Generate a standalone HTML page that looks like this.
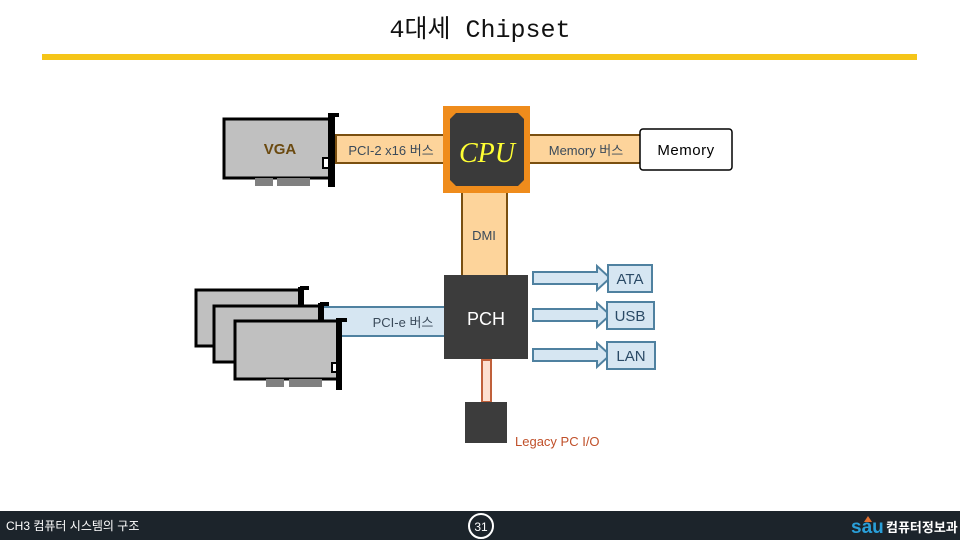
<!DOCTYPE html>
<html><head><meta charset="utf-8"><style>
body{margin:0;width:960px;height:540px;overflow:hidden;background:#fff;position:relative;font-family:"Liberation Sans","Noto Sans CJK KR",sans-serif}
</style></head><body>
<svg width="960" height="540" style="position:absolute;left:0;top:0" font-family="Liberation Sans, Noto Sans CJK KR, sans-serif">
<text x="480" y="37" text-anchor="middle" font-family="Liberation Mono, Noto Sans CJK KR, monospace" font-size="25" fill="#111">4대세 Chipset</text>
<rect x="42" y="54" width="875" height="6" fill="#f5c518"/>

<!-- VGA card -->
<rect x="224" y="119" width="106" height="59" fill="#c0c0c0" stroke="#000" stroke-width="3"/>
<rect x="255" y="178" width="18" height="8" fill="#808080"/>
<rect x="277" y="178" width="33" height="8" fill="#808080"/>
<rect x="328" y="113" width="7" height="74" fill="#000"/>
<rect x="330" y="113" width="9" height="4" fill="#000"/>
<rect x="323" y="158" width="6" height="10" fill="#fff" stroke="#000" stroke-width="2"/>
<text x="280" y="154" text-anchor="middle" font-size="15" font-weight="bold" fill="#6b4a10">VGA</text>

<!-- PCI-2 bus -->
<rect x="336" y="135" width="110" height="28" fill="#fdd49b" stroke="#7a4f10" stroke-width="2"/>
<text x="391" y="155" text-anchor="middle" font-size="13" fill="#3a4a5a">PCI-2 x16 버스</text>

<!-- Memory bus -->
<rect x="528" y="135" width="114" height="28" fill="#fdd49b" stroke="#7a4f10" stroke-width="2"/>
<text x="586" y="155" text-anchor="middle" font-size="13" fill="#3a4a5a">Memory 버스</text>
<rect x="640" y="129" width="92" height="41" rx="3" fill="#fff" stroke="#000" stroke-width="1.5"/>
<text x="686" y="155" text-anchor="middle" font-size="15" fill="#000" letter-spacing="0.5">Memory</text>

<!-- DMI -->
<rect x="462" y="190" width="45" height="87" fill="#fdd49b" stroke="#7a4f10" stroke-width="2"/>
<text x="484" y="240" text-anchor="middle" font-size="13" fill="#3a4a5a">DMI</text>

<!-- CPU -->
<rect x="443" y="106" width="87" height="87" fill="#ef8c1c"/>
<polygon points="456,113 518,113 524,119 524,180 518,186 456,186 450,180 450,119" fill="#3a3a3a"/>
<text x="487" y="162" text-anchor="middle" font-family="Liberation Serif, serif" font-style="italic" font-size="28" fill="#ffff33">CPU</text>

<!-- PCI-e bus -->
<rect x="322" y="307" width="124" height="29" fill="#d6e6f2" stroke="#4f81a0" stroke-width="2"/>
<text x="403" y="327" text-anchor="middle" font-size="13" fill="#3a4a5a">PCI-e 버스</text>

<!-- cards -->
<g>
<rect x="196" y="290" width="104" height="56" fill="#c0c0c0" stroke="#000" stroke-width="3"/>
<rect x="298" y="287" width="6" height="62" fill="#000"/><rect x="300" y="286" width="9" height="4" fill="#000"/>
<rect x="214" y="306" width="106" height="56" fill="#c0c0c0" stroke="#000" stroke-width="3"/>
<rect x="318" y="303" width="6" height="62" fill="#000"/><rect x="320" y="302" width="9" height="4" fill="#000"/>
<rect x="235" y="321" width="103" height="58" fill="#c0c0c0" stroke="#000" stroke-width="3"/>
<rect x="266" y="379" width="18" height="8" fill="#808080"/>
<rect x="289" y="379" width="33" height="8" fill="#808080"/>
<rect x="336" y="318" width="6" height="72" fill="#000"/><rect x="338" y="318" width="9" height="4" fill="#000"/>
<rect x="332" y="363" width="5" height="9" fill="#fff" stroke="#000" stroke-width="2"/>
</g>

<!-- PCH -->
<rect x="444" y="275" width="84" height="84" fill="#3c3c3c"/>
<text x="486" y="325" text-anchor="middle" font-size="18" fill="#fff">PCH</text>

<!-- arrows -->
<g fill="#d6e6f2" stroke="#4f81a0" stroke-width="2">
<polygon points="533,272 597,272 597,266 610,278 597,290 597,284 533,284"/>
<polygon points="533,309 597,309 597,303 610,315 597,327 597,321 533,321"/>
<polygon points="533,349 597,349 597,343 610,355 597,367 597,361 533,361"/>
<rect x="608" y="265" width="44" height="27"/>
<rect x="607" y="302" width="47" height="27"/>
<rect x="607" y="342" width="48" height="27"/>
</g>
<g font-size="15" fill="#2a4a66" text-anchor="middle">
<text x="630" y="284">ATA</text>
<text x="630" y="321">USB</text>
<text x="631" y="361">LAN</text>
</g>

<!-- Legacy -->
<rect x="482" y="360" width="9" height="42" fill="#fde0d0" stroke="#c0603a" stroke-width="2"/>
<rect x="465" y="402" width="42" height="41" fill="#3c3c3c"/>
<text x="515" y="446" font-size="13" fill="#c0502a">Legacy PC I/O</text>

<!-- footer -->
<rect x="0" y="511" width="960" height="29" fill="#1c242b"/>
<text x="6" y="530" font-size="12" fill="#fff">CH3 컴퓨터 시스템의 구조</text>
<circle cx="481" cy="526" r="12" fill="none" stroke="#fff" stroke-width="2"/>
<text x="481" y="531" text-anchor="middle" font-size="12" fill="#fff">31</text>
<text x="851" y="533" font-size="19" font-weight="bold" fill="#2a9fd8">sau</text>
<polygon points="868,516 872,522 864,522" fill="#e07030"/>
<text x="886" y="532" font-size="13" font-weight="bold" fill="#fff">컴퓨터정보과</text>
</svg>
</body></html>
